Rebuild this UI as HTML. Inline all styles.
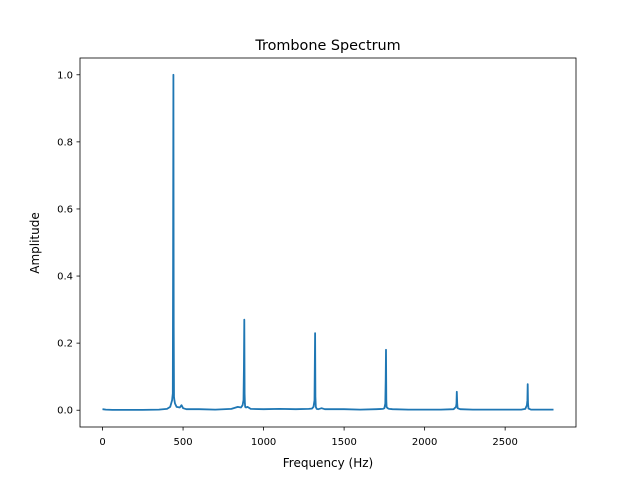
<!DOCTYPE html>
<html><head><meta charset="utf-8"><style>
body{margin:0;background:#fff;}
svg text{font-family:"DejaVu Sans","Liberation Sans",sans-serif;fill:#000;}
</style></head><body>
<svg id="chart" width="640" height="480" xmlns="http://www.w3.org/2000/svg">
<rect width="640" height="480" fill="#fff"/>
<g id="plot"></g>
<rect x="80" y="58" width="496" height="369" fill="none" stroke="#000" stroke-width="0.8"/>
<g id="xticks"></g><g id="yticks"></g>
<text x="328" y="50" font-size="14.4" text-anchor="middle">Trombone Spectrum</text>
<text x="328" y="467" font-size="12" text-anchor="middle">Frequency (Hz)</text>
<text x="0" y="0" font-size="12" text-anchor="middle" transform="translate(39,243) rotate(-90)">Amplitude</text>
</svg>
<script>
const freqs = [0,20,60,150,250,350,400,420,432,436,438,440,442,444,446,450,460,480,490,500,520,600,700,800,840,860,870,875,878,880,882,884,886,890,900,920,1000,1100,1200,1280,1300,1310,1316,1318,1320,1322,1324,1330,1340,1360,1380,1400,1500,1600,1700,1740,1750,1756,1758,1760,1762,1764,1770,1780,1800,1900,2000,2100,2180,2195,2198,2200,2202,2205,2220,2300,2400,2500,2600,2625,2635,2638,2640,2642,2645,2660,2700,2800];
const amps  = [0.003,0.002,0.001,0.001,0.001,0.002,0.004,0.01,0.03,0.05,0.44,1.0,0.25,0.04,0.03,0.02,0.01,0.008,0.015,0.006,0.003,0.003,0.002,0.004,0.01,0.008,0.015,0.03,0.12,0.27,0.05,0.02,0.01,0.008,0.01,0.004,0.003,0.004,0.003,0.004,0.005,0.01,0.03,0.13,0.23,0.04,0.01,0.004,0.003,0.006,0.003,0.003,0.003,0.002,0.003,0.004,0.006,0.02,0.09,0.18,0.03,0.01,0.006,0.004,0.003,0.002,0.002,0.002,0.003,0.01,0.02,0.055,0.02,0.006,0.003,0.002,0.002,0.002,0.002,0.004,0.015,0.03,0.078,0.02,0.005,0.002,0.002,0.002];
const xTicks = [0,500,1000,1500,2000,2500];
const yTicks = [0.0,0.2,0.4,0.6,0.8,1.0];
const xMin=-140,xMax=2940,yMin=-0.05,yMax=1.05;
const X=v=>80+(v-xMin)/(xMax-xMin)*496;
const Y=v=>427-(v-yMin)/(yMax-yMin)*369;
const NS="http://www.w3.org/2000/svg";
const plot=document.getElementById('plot');
const line=document.createElementNS(NS,'polyline');


line.setAttribute('points',freqs.map((f,i)=>X(f).toFixed(1)+','+Y(amps[i]).toFixed(1)).join(' '));
line.setAttribute('fill','none');line.setAttribute('stroke','#1f77b4');line.setAttribute('stroke-width','1.8');line.setAttribute('stroke-linejoin','round');
plot.appendChild(line);
const xt=document.getElementById('xticks');
xTicks.forEach(t=>{
 const l=document.createElementNS(NS,'line');
 
 
 l.setAttribute('x1',X(t));l.setAttribute('x2',X(t));l.setAttribute('y1',427);l.setAttribute('y2',430.5);l.setAttribute('stroke','#000');l.setAttribute('stroke-width','0.8');
 xt.appendChild(l);
 const tx=document.createElementNS(NS,'text');
 
 
 tx.setAttribute('x',X(t));tx.setAttribute('y',445);tx.setAttribute('font-size','10');tx.setAttribute('text-anchor','middle');
 tx.textContent=t;xt.appendChild(tx);
});
const yt=document.getElementById('yticks');
yTicks.forEach(t=>{
 const l=document.createElementNS(NS,'line');
 
 
 l.setAttribute('x1',76.5);l.setAttribute('x2',80);l.setAttribute('y1',Y(t));l.setAttribute('y2',Y(t));l.setAttribute('stroke','#000');l.setAttribute('stroke-width','0.8');
 yt.appendChild(l);
 const tx=document.createElementNS(NS,'text');
 
 
 tx.setAttribute('x',73);tx.setAttribute('y',Y(t)+3.5);tx.setAttribute('font-size','10');tx.setAttribute('text-anchor','end');
 tx.textContent=t.toFixed(1);yt.appendChild(tx);
});
</script>
</body></html>
